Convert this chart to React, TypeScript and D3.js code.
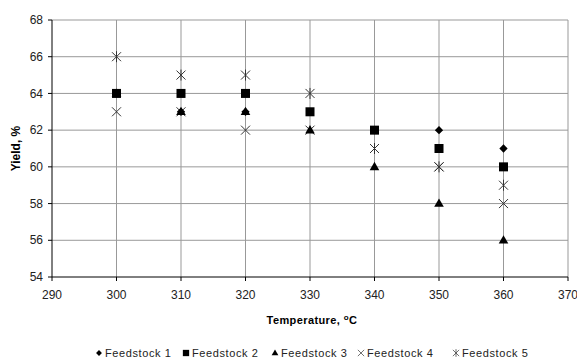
import React from "react";
import * as d3 from "d3";

const temps = [300, 310, 320, 330, 340, 350, 360];
const feedstock1 = [64, 63, 63, 63, 62, 62, 61];
const feedstock2 = [64, 64, 64, 63, 62, 61, 60];
const feedstock3 = [64, 63, 63, 62, 60, 58, 56];
const feedstock4 = [63, 63, 62, 62, 61, 60, 58];
const feedstock5 = [66, 65, 65, 64, 61, 60, 59];
const xTicks = [290, 300, 310, 320, 330, 340, 350, 360, 370];
const yTicks = [54, 56, 58, 60, 62, 64, 66, 68];
const seriesNames = ["Feedstock 1", "Feedstock 2", "Feedstock 3", "Feedstock 4", "Feedstock 5"];

const W = 577;
const H = 358;
const margin = { top: 20, right: 9, bottom: 81, left: 52 };
const font = "'Liberation Sans', Arial, sans-serif";

type Kind = "diamond" | "square" | "triangle" | "x" | "star";

function Marker({ kind, cx, cy }: { kind: Kind; cx: number; cy: number }) {
  if (kind === "diamond") {
    const p = d3.symbol(d3.symbolDiamond2, 44)()!;
    return <path d={p} transform={`translate(${cx},${cy})`} fill="#000" />;
  }
  if (kind === "square") {
    return <rect x={cx - 4.5} y={cy - 4.5} width={9} height={9} fill="#000" />;
  }
  if (kind === "triangle") {
    const p = d3.symbol(d3.symbolTriangle, 40)()!;
    return <path d={p} transform={`translate(${cx},${cy + 0.5})`} fill="#000" />;
  }
  const r = 4.5;
  return (
    <g stroke="#333" strokeWidth={1} fill="none">
      <line x1={cx - r} y1={cy - r} x2={cx + r} y2={cy + r} />
      <line x1={cx - r} y1={cy + r} x2={cx + r} y2={cy - r} />
      {kind === "star" && <line x1={cx} y1={cy - r - 1} x2={cx} y2={cy + r + 1} />}
    </g>
  );
}

export default function App() {
  const x = d3.scaleLinear().domain([290, 370]).range([margin.left, W - margin.right]);
  const y = d3.scaleLinear().domain([54, 68]).range([H - margin.bottom, margin.top]);

  const series: { name: string; kind: Kind; values: number[] }[] = [
    { name: seriesNames[3], kind: "x", values: feedstock4 },
    { name: seriesNames[4], kind: "star", values: feedstock5 },
    { name: seriesNames[2], kind: "triangle", values: feedstock3 },
    { name: seriesNames[0], kind: "diamond", values: feedstock1 },
    { name: seriesNames[1], kind: "square", values: feedstock2 },
  ];

  const legendKinds: Kind[] = ["diamond", "square", "triangle", "x", "star"];
  const legendX = [99, 186, 275, 361, 456];
  const ly = 353;

  const x0 = x.range()[0];
  const x1 = x.range()[1];
  const y0 = y.range()[0];
  const y1 = y.range()[1];

  return (
    <svg width={W} height={H} style={{ position: "absolute", left: 0, top: 0, background: "#fff" }} fontFamily={font}>
      {/* gridlines */}
      {yTicks.slice(1).map((t) => (
        <line key={"gy" + t} x1={x0} x2={x1} y1={y(t)} y2={y(t)} stroke="#999" strokeWidth={1} />
      ))}
      {xTicks.slice(1).map((t) => (
        <line key={"gx" + t} x1={x(t)} x2={x(t)} y1={y1} y2={y0} stroke="#999" strokeWidth={1} />
      ))}
      {/* axes */}
      <line x1={x0} x2={x0} y1={y1} y2={y0} stroke="#000" />
      <line x1={x0} x2={x1} y1={y0} y2={y0} stroke="#000" />
      {yTicks.map((t) => (
        <g key={"ty" + t}>
          <line x1={x0 - 4} x2={x0} y1={y(t)} y2={y(t)} stroke="#000" />
          <text x={x0 - 9} y={y(t)} dy="0.35em" textAnchor="end" fontSize={12} fill="#222">
            {t}
          </text>
        </g>
      ))}
      {xTicks.map((t) => (
        <g key={"tx" + t}>
          <line x1={x(t)} x2={x(t)} y1={y0} y2={y0 + 4} stroke="#000" />
          <text x={x(t)} y={y0 + 18} dy="0.35em" textAnchor="middle" fontSize={12} fill="#222">
            {t}
          </text>
        </g>
      ))}
      {/* axis titles */}
      <text
        x={(x0 + x1) / 2 + 2}
        y={320}
        dy="0.35em"
        textAnchor="middle"
        fontSize={11}
        fontWeight="bold"
        letterSpacing={0.4}
        fill="#000"
      >
        Temperature, <tspan fontSize={8} dy="-4">o</tspan>
        <tspan dy="4">C</tspan>
      </text>
      <text
        transform={`translate(16,${(y0 + y1) / 2}) rotate(-90)`}
        dy="0.35em"
        textAnchor="middle"
        fontSize={12}
        fontWeight="bold"
        fill="#000"
      >
        Yield, %
      </text>
      {/* points */}
      {series.map((s) =>
        s.values.map((v, i) => <Marker key={s.name + i} kind={s.kind} cx={x(temps[i])} cy={y(v)} />)
      )}
      {/* legend */}
      {seriesNames.map((n, i) => (
        <g key={"lg" + n}>
          <g transform={`translate(${legendX[i]},${ly}) scale(0.7) translate(${-legendX[i]},${-ly})`}>
            <Marker kind={legendKinds[i]} cx={legendX[i]} cy={ly} />
          </g>
          <text x={legendX[i] + 6} y={ly} dy="0.35em" fontSize={11} letterSpacing={0.6} fill="#222">
            {n}
          </text>
        </g>
      ))}
    </svg>
  );
}
